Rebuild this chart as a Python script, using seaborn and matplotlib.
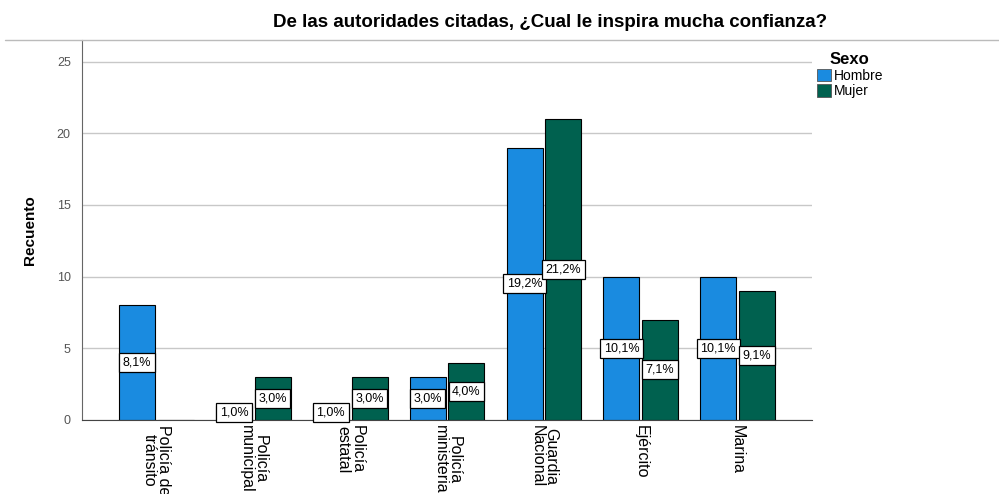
import numpy as np
import pandas as pd
import matplotlib
matplotlib.use("Agg")
import matplotlib.pyplot as plt
from matplotlib.lines import Line2D
import seaborn as sns

# ─────────────────────────────────────────────
# Data
# ─────────────────────────────────────────────
categorias = [
    "Policía de\ntránsito",
    "Policía\nmunicipal",
    "Policía\nestatal",
    "Policía\nministeria",
    "Guardia\nNacional",
    "Ejército",
    "Marina",
]
hombre = [8, 1, 1, 3, 19, 10, 10]
mujer = [0, 3, 3, 4, 21, 7, 9]
etiquetas_hombre = ["8,1%", "1,0%", "1,0%", "3,0%", "19,2%", "10,1%", "10,1%"]
etiquetas_mujer = ["", "3,0%", "3,0%", "4,0%", "21,2%", "7,1%", "9,1%"]
sexos = ["Hombre", "Mujer"]

df = pd.DataFrame({
    "categoria": categorias * 2,
    "recuento": hombre + mujer,
    "sexo": ["Hombre"] * len(categorias) + ["Mujer"] * len(categorias),
})

# ─────────────────────────────────────────────
# Plot
# ─────────────────────────────────────────────
sns.set_style("white")
plt.rcParams["font.family"] = ["Liberation Sans", "DejaVu Sans"]
plt.rcParams["text.color"] = "black"
plt.rcParams["axes.labelcolor"] = "black"
plt.rcParams["xtick.color"] = "black"

fig = plt.figure(figsize=(9.99, 4.94), dpi=100)
ax = fig.add_axes([0.082, 0.150, 0.731, 0.769])

ax.yaxis.grid(True, color="#c8c8c8", linewidth=1.0)
ax.set_axisbelow(True)

sns.barplot(
    data=df, x="categoria", y="recuento", hue="sexo",
    order=categorias, hue_order=sexos,
    palette={"Hombre": "#1a8be0", "Mujer": "#00614f"},
    saturation=1, edgecolor="black", linewidth=0.8, width=0.8, gap=0.07,
    legend=True, ax=ax,
)

# value labels centred on each bar
for cont, labels in zip(ax.containers, [etiquetas_hombre, etiquetas_mujer]):
    for bar, lab in zip(cont, labels):
        if not lab:
            continue
        x = bar.get_x() + bar.get_width() / 2
        y = bar.get_height() / 2
        ax.text(x, y, lab, ha="center", va="center", fontsize=9,
                bbox=dict(boxstyle="square,pad=0.28", fc="white",
                          ec="black", lw=0.9), zorder=5)

ax.set_ylim(0, 26.5)
ax.set_xlim(-0.77, len(categorias) - 1 + 0.77)
ax.set_yticks([0, 5, 10, 15, 20, 25])
ax.tick_params(axis="y", labelsize=9, labelcolor="#555555", length=0, pad=8)
ax.tick_params(axis="x", labelsize=11.5, labelcolor="black", length=0, pad=4)
ax.set_xticks(range(len(categorias)))
ax.set_xticklabels(categorias, rotation=-90, va="top", ha="center",
                   linespacing=0.9)
ax.set_xlabel("")
ax.set_ylabel("Recuento", fontsize=11, fontweight="bold", labelpad=14)

for s in ["top", "right"]:
    ax.spines[s].set_visible(False)
ax.spines["left"].set_color("#666666")
ax.spines["bottom"].set_color("#444444")

leg = ax.legend(
    title="Sexo", loc="upper left", bbox_to_anchor=(0.812, 0.905),
    bbox_transform=fig.transFigure, frameon=False, fontsize=10,
    title_fontproperties={"weight": "bold", "size": 12},
    handlelength=1.0, handleheight=1.0, handletextpad=0.2,
    labelspacing=0.1, borderaxespad=0,
)
for h in leg.legend_handles:
    h.set_edgecolor("#555555")
    h.set_linewidth(0.6)

# title and separator line
fig.text(0.551, 0.955, "De las autoridades citadas, ¿Cual le inspira mucha confianza?",
         ha="center", va="center", fontsize=13.5, fontweight="bold", color="black")
fig.add_artist(Line2D([0.005, 1.0], [0.919, 0.919], transform=fig.transFigure,
                      color="#bbbbbb", linewidth=1.0))

plt.savefig("out.png", dpi=100)
plt.close()
